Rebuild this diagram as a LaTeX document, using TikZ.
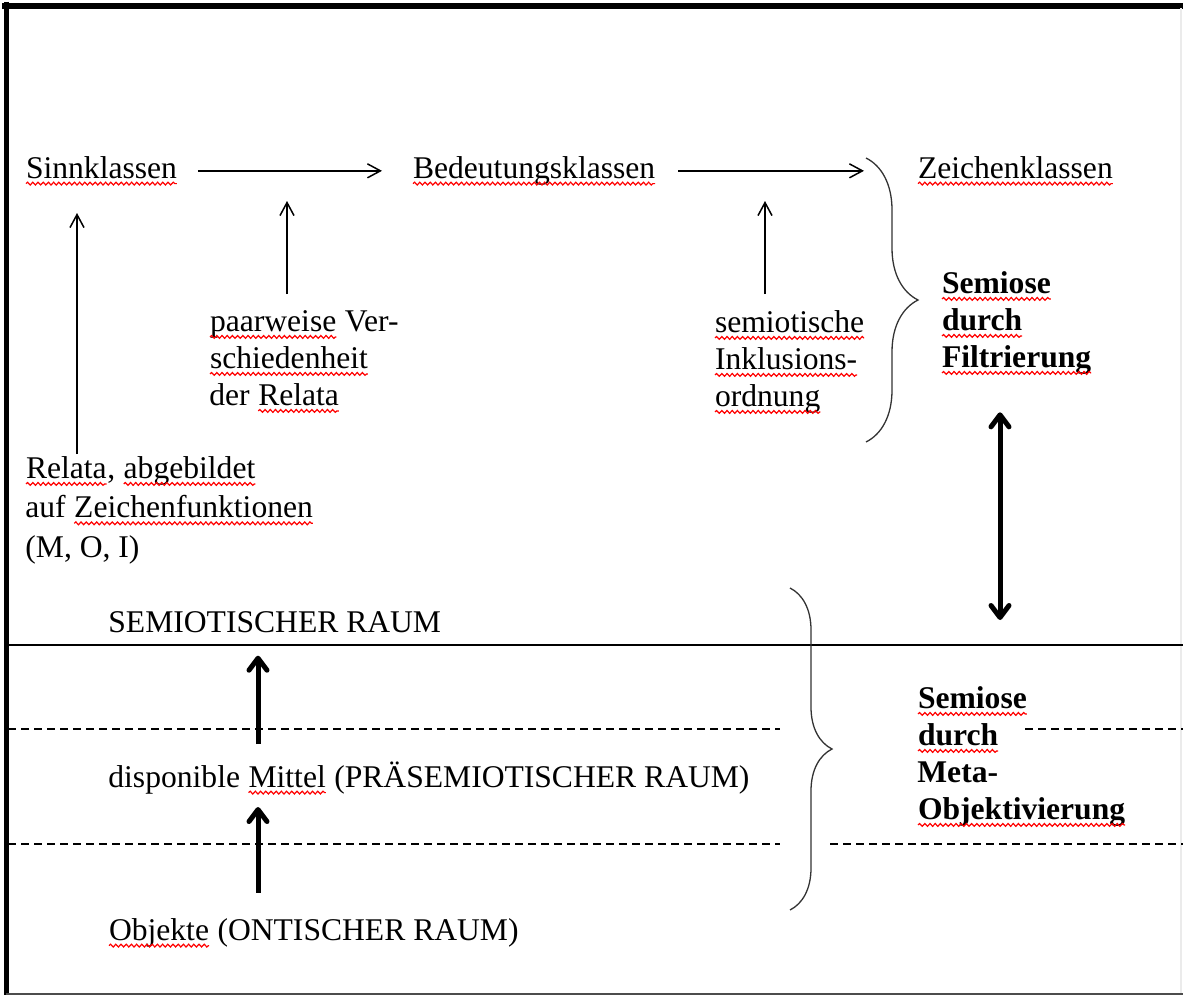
\documentclass[tikz,border=0pt]{standalone}
\usepackage{fontspec}
\setmainfont{Liberation Serif}
\usetikzlibrary{arrows.meta,decorations.pathreplacing,decorations.pathmorphing}

% red wavy underline under a word
\newcommand{\sq}[1]{\tikz[baseline=(w.base)]{%
    \node[inner sep=0pt, outer sep=0pt] (w) {#1};%
    \draw[red, line width=0.6pt, decorate,
          decoration={snake, amplitude=0.7pt, segment length=2.6pt}]
        ([yshift=-2.8pt]w.base west) -- ([yshift=-2.8pt]w.base east);}}

\begin{document}
\begin{tikzpicture}[
    x=0.5pt, y=-0.5pt,
    txt/.style={font=\fontsize{15.8pt}{18.5pt}\selectfont, inner sep=0pt, align=left},
    bld/.style={txt, font=\fontsize{15.8pt}{18.5pt}\selectfont\bfseries},
    arr/.style={-{Straight Barb[length=6.5pt,width=7pt]}, line width=0.75pt},
    thk/.style={-{Straight Barb[round,length=6pt,width=9pt]}, line width=2.5pt},
    dbl/.style={{Straight Barb[round,length=6pt,width=9pt]}-{Straight Barb[round,length=6pt,width=9pt]}, line width=2.5pt},
    brc/.style={decorate, decoration={brace, amplitude=#1}, line width=0.65pt, black!80},
    dsh/.style={dash pattern=on 4pt off 2.5pt, line width=0.7pt},
]
\useasboundingbox (0,0) rectangle (1183,995);

% Frame
\draw[line width=3pt] (2,6) -- (1183,6);
\draw[line width=2.5pt] (6,2) -- (6,995);
\draw[black!70, line width=1pt] (6,994) -- (1183,994);
\draw[black!8, line width=0.8pt] (1181,8) -- (1181,993);

% Separator and layer boundaries
\coordinate (sepL) at (8,645);
\coordinate (sepR) at (1183,645);
\draw[line width=1pt] (sepL) -- (sepR);
\draw[dsh] (8,729) -- (780,729);
\draw[dsh] (1025,729) -- (1183,729);
\draw[dsh] (8,844) -- (780,844);
\draw[dsh] (830,844) -- (1183,844);

% Upper row
\node[txt, anchor=base west] (sinn) at (25,178) {\sq{Sinnklassen}};
\node[txt, anchor=base west] (bed) at (412,178) {\sq{Bedeutungsklassen}};
\node[txt, anchor=base west] (zeich) at (917,178) {\sq{Zeichenklassen}};

\node[txt, anchor=north west] (paar) at (209,310)
    {\sq{paarweise} Ver-\\\sq{schiedenheit}\\der \sq{Relata}};
\node[txt, anchor=north west] (inkl) at (714,310)
    {\sq{semiotische}\\\sq{Inklusions-}\\\sq{ordnung}};
\node[txt, anchor=north west] (rel) at (25,456)
    {\sq{Relata}, \sq{abgebildet}\\[1.2pt]auf \sq{Zeichenfunktionen}\\[1.2pt](M, O, I)};
\node[bld, anchor=north west] (filt) at (941,271)
    {\sq{Semiose}\\\sq{durch}\\\sq{Filtrierung}};

% Upper brace
\coordinate (ubt) at (866,158);
\coordinate (ubb) at (866,442);
\draw[brc=26pt] (ubt) -- (ubb);

\draw[arr, shorten <=10pt, shorten >=15pt] (sinn.east |- bed.west) -- (bed.west);
\draw[arr, shorten <=11pt, shorten >=1pt] (bed.east) -- (bed.east -| ubt);

\coordinate (relx) at (77,0);
\coordinate (paarx) at (287,0);
\coordinate (inklx) at (765,0);
\draw[arr, shorten <=1pt, shorten >=13.5pt] (relx |- rel.north) -- (relx |- sinn.south);
\draw[arr, shorten <=8pt, shorten >=7.5pt] (paarx |- paar.north) -- (paarx |- bed.south);
\draw[arr, shorten <=8pt, shorten >=7.5pt] (inklx |- inkl.north) -- (inklx |- bed.south);

% Lower layers
\node[txt, anchor=base west] (semraum) at (108,632) {SEMIOTISCHER RAUM};
\node[txt, anchor=base west] (mittel) at (108,787)
    {disponible \sq{Mittel} (PRÄSEMIOTISCHER RAUM)};
\node[txt, anchor=base west] (obj) at (108,940) {\sq{Objekte} (ONTISCHER RAUM)};

\coordinate (upx) at (258,0);
\draw[thk, shorten <=8.5pt, shorten >=11.5pt] (upx |- mittel.north) -- (upx |- semraum.south);
\draw[thk, shorten <=12.5pt, shorten >=6pt] (upx |- obj.north) -- (upx |- mittel.south);

% Lower brace
\coordinate (lbt) at (790,588);
\coordinate (lbb) at (790,910);
\draw[brc=21pt] (lbt) -- (lbb);

\node[bld, anchor=north west] (meta) at (917,686)
    {\sq{Semiose}\\\sq{durch}\\Meta-\\\sq{Objektivierung}};

% Link between the two semioses
\coordinate (dblx) at (1000,0);
\draw[dbl, shorten <=18.5pt, shorten >=12.5pt] (dblx |- filt.south) -- (dblx |- sepL);

\end{tikzpicture}
\end{document}
